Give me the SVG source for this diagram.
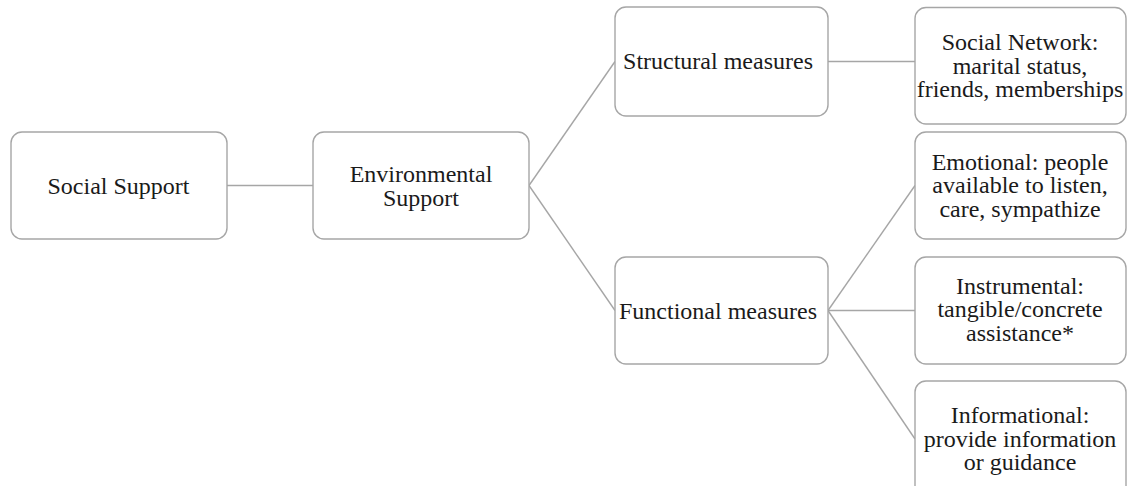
<svg xmlns="http://www.w3.org/2000/svg" width="1128" height="486" viewBox="0 0 1128 486">
<style>
.box{fill:#ffffff;stroke:#a6a6a6;stroke-width:1.4}
.lbl{font-family:'Liberation Serif','Times New Roman',serif;font-size:24px;fill:#1a1a1a;text-anchor:middle}
.conn line{stroke:#a6a6a6;stroke-width:1.4}
</style>
<rect width="1128" height="486" fill="#ffffff"/>
<g id="connectors" class="conn">
<line x1="227" y1="185.5" x2="313" y2="185.5"/>
<line x1="529" y1="185.5" x2="615" y2="61.5"/>
<line x1="529" y1="185.5" x2="615" y2="310.5"/>
<line x1="828" y1="61.5" x2="915" y2="61.5"/>
<line x1="828" y1="310.5" x2="915" y2="185.5"/>
<line x1="828" y1="310.5" x2="915" y2="310.5"/>
<line x1="828" y1="310.5" x2="915" y2="439"/>
</g>
<g font-family="Liberation Serif, serif">
<g id="social-support">
<rect class="box" x="11" y="132" width="216" height="107" rx="11"/>
<text class="lbl" x="118.5" y="194">Social Support</text>
</g>
<g id="environmental-support">
<rect class="box" x="313" y="132" width="216" height="107" rx="11"/>
<text class="lbl" x="421" y="182">Environmental</text>
<text class="lbl" x="421" y="205.5">Support</text>
</g>
<g id="structural-measures">
<rect class="box" x="615" y="7" width="213" height="109" rx="11"/>
<text class="lbl" x="718" y="69">Structural measures</text>
</g>
<g id="social-network">
<rect class="box" x="915" y="7.5" width="211" height="116.5" rx="11"/>
<text class="lbl" x="1020" y="50">Social Network:</text>
<text class="lbl" x="1020" y="73.5">marital status,</text>
<text class="lbl" x="1020" y="97">friends, memberships</text>
</g>
<g id="functional-measures">
<rect class="box" x="615" y="257" width="213" height="107" rx="11"/>
<text class="lbl" x="718" y="319">Functional measures</text>
</g>
<g id="emotional">
<rect class="box" x="915" y="132" width="211" height="107" rx="11"/>
<text class="lbl" x="1020" y="169.5">Emotional: people</text>
<text class="lbl" x="1020" y="193">available to listen,</text>
<text class="lbl" x="1020" y="216.5">care, sympathize</text>
</g>
<g id="instrumental">
<rect class="box" x="915" y="257" width="211" height="107" rx="11"/>
<text class="lbl" x="1020" y="293.5">Instrumental:</text>
<text class="lbl" x="1020" y="317">tangible/concrete</text>
<text class="lbl" x="1020" y="340.5">assistance*</text>
</g>
<g id="informational">
<rect class="box" x="915" y="381" width="211" height="116" rx="11"/>
<text class="lbl" x="1020" y="423">Informational:</text>
<text class="lbl" x="1020" y="446.5">provide information</text>
<text class="lbl" x="1020" y="470">or guidance</text>
</g>
</g>
</svg>
